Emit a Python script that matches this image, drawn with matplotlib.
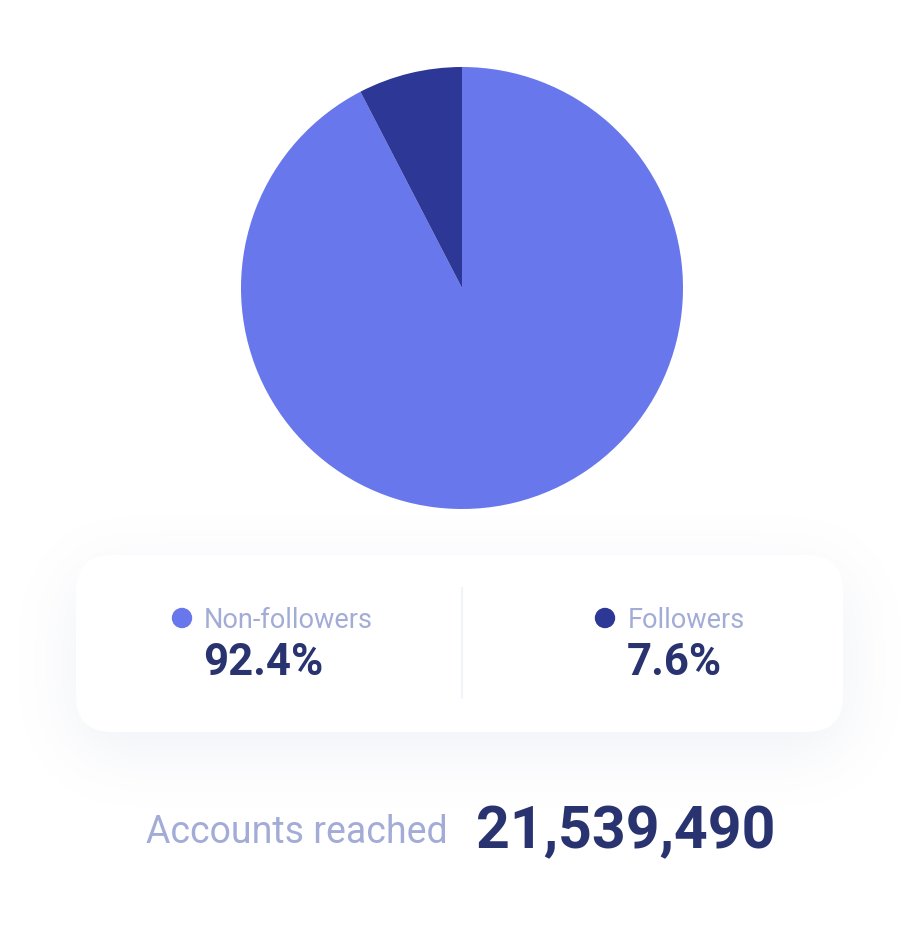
import matplotlib.pyplot as plt
import numpy as np
from matplotlib.patches import FancyBboxPatch, Circle

# data
labels = ["Non-followers", "Followers"]
shares = [92.4, 7.6]
colors = ["#6977EC", "#2C3796"]
accounts_reached = 21539490

W, H = 921, 946
plt.rcParams['font.family'] = ['Roboto', 'DejaVu Sans']

fig = plt.figure(figsize=(W / 100, H / 100), dpi=100)
fig.patch.set_facecolor("white")

# background axes in pixel coordinates
bg = fig.add_axes([0, 0, 1, 1])
bg.set_xlim(0, W)
bg.set_ylim(H, 0)
bg.axis("off")

# card geometry
cx0, cy0, cx1, cy1 = 76, 555, 843, 732
rad = 36

# soft shadow under the card
yy, xx = np.mgrid[0:H, 0:W] + 0.5
off = 18
dx = np.maximum(np.maximum(cx0 + rad - xx, xx - (cx1 - rad)), 0)
dy = np.maximum(np.maximum(cy0 + off + rad - yy, yy - (cy1 + off - rad)), 0)
mask = (np.hypot(dx, dy) <= rad).astype(float)
sigma = 30
k = np.exp(-0.5 * (np.arange(-3 * sigma, 3 * sigma + 1) / sigma) ** 2)
k /= k.sum()
blur = np.apply_along_axis(lambda r: np.convolve(r, k, mode="same"), 1, mask)
blur = np.apply_along_axis(lambda c: np.convolve(c, k, mode="same"), 0, blur)
shadow = np.zeros((H, W, 4))
shadow[..., :3] = np.array([0x9A, 0xA8, 0xC8]) / 255
shadow[..., 3] = blur * 0.15
bg.imshow(shadow, extent=[0, W, H, 0], interpolation="bilinear", zorder=0)
bg.set_xlim(0, W)
bg.set_ylim(H, 0)

card = FancyBboxPatch((cx0, cy0), cx1 - cx0, cy1 - cy0,
                      boxstyle=f"round,pad=0,rounding_size={rad}",
                      facecolor="white", edgecolor="none", zorder=1)
bg.add_patch(card)
bg.plot([462, 462], [588, 698], color="#EEF1F7", lw=1.2, zorder=2)

# legend entries
label_color = "#A3ACD6"
value_color = "#29336F"
entries = [(182, 204), (605, 628)]
for (dot_x, text_x), lab, val, col in zip(entries, labels, shares, colors):
    bg.add_patch(Circle((dot_x, 618), 9.5, color=col, zorder=3))
    bg.text(text_x, 628, lab, fontsize=19.5, color=label_color,
            va="baseline", ha="left", zorder=3)
    bg.text(text_x - 1, 675, f"{val}%", fontsize=31.5, fontweight="bold",
            color=value_color, va="baseline", ha="left", zorder=3)

# bottom totals
bg.text(146, 843, "Accounts reached", fontsize=27, fontweight="normal",
        color=label_color, va="baseline", ha="left")
bg.text(476, 848, f"{accounts_reached:,}", fontsize=42.5, fontweight="bold",
        color=value_color, va="baseline", ha="left")

# pie
pcx, pcy, pr = 462, 288, 221
pax = fig.add_axes([(pcx - pr) / W, (H - pcy - pr) / H, 2 * pr / W, 2 * pr / H])
pax.pie(shares, colors=colors, startangle=90, counterclock=False,
        wedgeprops=dict(linewidth=0))
pax.set_xlim(-1, 1)
pax.set_ylim(-1, 1)
pax.axis("off")

fig.savefig("out.png", dpi=100, facecolor="white")
